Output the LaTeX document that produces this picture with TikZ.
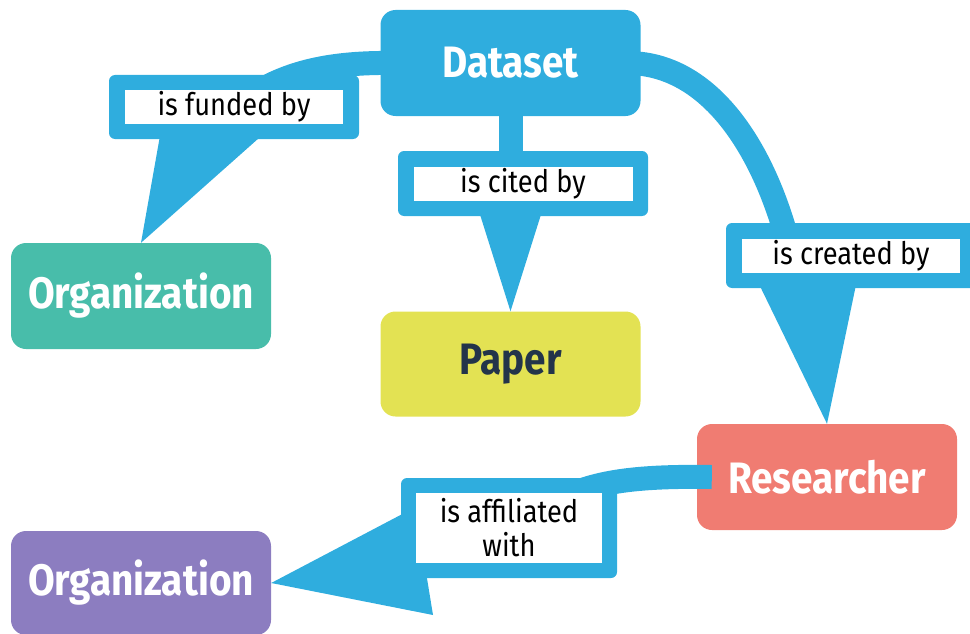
\documentclass[tikz,border=0pt]{standalone}
\usepackage{fontspec}
\setmainfont{Fira Sans}
\newfontfamily\narrowfont[FakeStretch=0.88]{Fira Sans}
\usetikzlibrary{calc}
\definecolor{linkblue}{RGB}{47,173,222}
\definecolor{tealc}{RGB}{72,189,170}
\definecolor{yellowc}{RGB}{227,226,83}
\definecolor{salmonc}{RGB}{240,124,114}
\definecolor{purplec}{RGB}{140,125,192}
\definecolor{navyc}{RGB}{35,52,74}
\begin{document}
\begin{tikzpicture}[x=1pt,y=-1pt,
  entity/.style={rounded corners=15pt, minimum width=260pt, minimum height=106pt, inner sep=0pt,
     font=\narrowfont\fontsize{44}{48}\selectfont\bfseries, text=white},
  labouter/.style={fill=linkblue, rounded corners=6pt, inner sep=0pt},
  labinner/.style={fill=white, inner sep=0pt, font=\narrowfont\fontsize{31}{34}\selectfont, text=black, align=center},
  band/.style={draw=linkblue, line width=24pt},
  pointer/.style={fill=linkblue}
]
\useasboundingbox (0,0) rectangle (970,634);

% entities
\node[entity, fill=linkblue] (ds) at (510.5,63) {Dataset};
\node[entity, fill=tealc] (org1) at (141,296) {Organization};
\node[entity, fill=yellowc, text=navyc, minimum height=105pt] (paper) at (510.5,364) {Paper};
\node[entity, fill=salmonc] (res) at (827,477) {Researcher};
\node[entity, fill=purplec, minimum height=104pt] (org2) at (141,583) {Organization};

% label positions
\coordinate (l1c) at (234,107);
\coordinate (l2c) at (523,183.5);
\coordinate (l3c) at (851,255.5);
\coordinate (l4c) at (509,528);
\coordinate (l1in) at (245,100);
\coordinate (l3in) at (790,250);
\coordinate (l4in) at (560,500);

% bands (behind labels)
\draw[band] ($(ds.west)+(15,0)$) .. controls (330,62) and (285,72) .. (l1in);
\draw[band] ($(ds.south)+(0,-10)$) -- (ds.south |- l2c);
\draw[band] ($(ds.east)+(-15,0)$) .. controls (710,62) and (765,150) .. (l3in);
\draw[band] ($(res.west)+(15,0)$) .. controls (645,476) and (595,480) .. (l4in);

% pointers
\fill[pointer] (161,130) -- (268,130) -- (org1.north) -- cycle;
\fill[pointer] (477,205) -- (544,205) -- (paper.north) -- cycle;
\fill[pointer] (757,280) -- (857,280) -- (res.north) -- cycle;
\fill[pointer] (410,510) -- (org2.east) -- (433,615) -- (424,560) -- cycle;

% label boxes
\node[labouter, minimum width=250pt, minimum height=64pt] (l1o) at (l1c) {};
\node[labinner, minimum width=218pt, minimum height=33pt] (l1) at (l1c) {is funded by};
\node[labouter, minimum width=250pt, minimum height=65pt] (l2o) at (l2c) {};
\node[labinner, minimum width=219pt, minimum height=34pt] (l2) at (l2c) {is cited by};
\node[labouter, minimum width=250pt, minimum height=65pt] (l3o) at (l3c) {};
\node[labinner, minimum width=218pt, minimum height=34pt] (l3) at (l3c) {is created by};
\node[labouter, minimum width=216pt, minimum height=100pt] (l4o) at (l4c) {};
\node[labinner, minimum width=186pt, minimum height=70pt] (l4) at (l4c) {is affiliated\\with};
\end{tikzpicture}
\end{document}
